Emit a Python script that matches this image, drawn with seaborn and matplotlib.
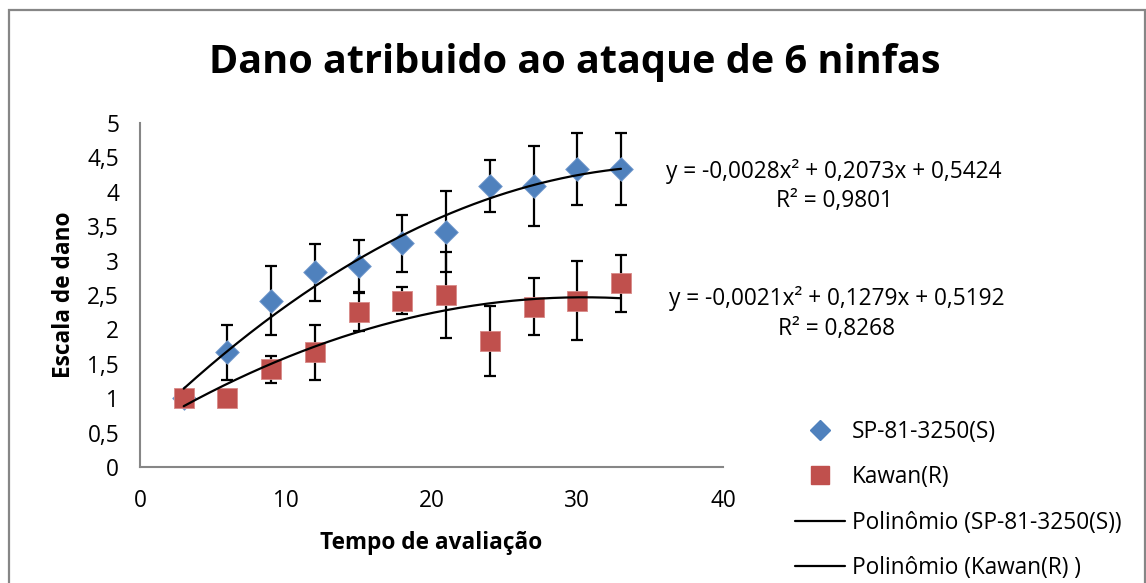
import numpy as np
import pandas as pd
import matplotlib
matplotlib.use("Agg")
import matplotlib.pyplot as plt
import seaborn as sns
from matplotlib.patches import Rectangle
from matplotlib.lines import Line2D

# Evaluation times and mean damage scores for each cultivar
tempo = [3, 6, 9, 12, 15, 18, 21, 24, 27, 30, 33]
dano_sp = [1.00, 1.67, 2.42, 2.83, 2.92, 3.25, 3.42, 4.08, 4.08, 4.33, 4.33]
erro_sp = [0.00, 0.40, 0.50, 0.41, 0.38, 0.42, 0.59, 0.38, 0.58, 0.52, 0.52]
dano_kw = [1.00, 1.00, 1.42, 1.67, 2.25, 2.42, 2.50, 1.83, 2.33, 2.42, 2.67]
erro_kw = [0.00, 0.00, 0.20, 0.40, 0.28, 0.20, 0.63, 0.51, 0.41, 0.58, 0.41]

# Second-order polynomial trend coefficients (a, b, c) and R²
coef_sp = [-0.0028, 0.2073, 0.5424]
r2_sp = 0.9801
coef_kw = [-0.0021, 0.1279, 0.5192]
r2_kw = 0.8268

nome_sp = "SP-81-3250(S)"
nome_kw = "Kawan(R)"
titulo = "Dano atribuido ao ataque de 6 ninfas"

sns.set_style("white")
plt.rcParams["font.family"] = ["Open Sans", "DejaVu Sans"]
plt.rcParams["text.color"] = "black"
plt.rcParams["axes.labelcolor"] = "black"

AZUL = "#4F81BD"
VERMELHO = "#C0504D"
CINZA = "#868686"
FS = 16.3

fig = plt.figure(figsize=(11.46, 5.83), dpi=100)
ax = fig.add_axes([140 / 1146, 1 - 467 / 583, 583 / 1146, 344 / 583])

df = pd.DataFrame({
    "tempo": tempo * 2,
    "dano": dano_sp + dano_kw,
    "serie": [nome_sp] * len(tempo) + [nome_kw] * len(tempo),
})

# Error bars underneath the markers
ax.errorbar(tempo, dano_sp, yerr=erro_sp, fmt="none", ecolor="black",
            elinewidth=1.6, capsize=4.5, capthick=1.6, zorder=1)
ax.errorbar(tempo, dano_kw, yerr=erro_kw, fmt="none", ecolor="black",
            elinewidth=1.6, capsize=4.5, capthick=1.6, zorder=1)

sns.scatterplot(data=df[df.serie == nome_sp], x="tempo", y="dano", marker="D",
                s=145, color=AZUL, edgecolor="#7a9fd0", linewidth=0.6,
                ax=ax, zorder=2, legend=False)
sns.scatterplot(data=df[df.serie == nome_kw], x="tempo", y="dano", marker="s",
                s=225, color=VERMELHO, edgecolor="#d98a88", linewidth=0.6,
                ax=ax, zorder=3, legend=False)

# Polynomial trend lines over the observed range
xs = np.linspace(min(tempo), max(tempo), 200)
ys_sp = np.polyval(coef_sp, xs)
ys_kw = np.polyval(coef_kw, xs)
sns.lineplot(x=xs, y=ys_sp, color="black", linewidth=1.6, ax=ax, zorder=4)
sns.lineplot(x=xs, y=ys_kw, color="black", linewidth=1.6, ax=ax, zorder=4)

ax.set_xlim(0, 40)
ax.set_ylim(0, 5)
ax.set_xticks([0, 10, 20, 30, 40])
ax.set_yticks(np.arange(0, 5.01, 0.5))
ax.set_yticklabels([f"{v:g}".replace(".", ",") for v in np.arange(0, 5.01, 0.5)])

for s in ["top", "right"]:
    ax.spines[s].set_visible(False)
for s in ["left", "bottom"]:
    ax.spines[s].set_color(CINZA)
    ax.spines[s].set_linewidth(1.5)
ax.tick_params(axis="both", which="both", direction="out", length=7, width=1.5,
               color=CINZA, labelsize=FS, labelcolor="black", pad=8)
ax.tick_params(axis="x", pad=9)

ax.set_xlabel("Tempo de avaliação", fontsize=FS, fontweight="bold", labelpad=13)
ax.set_ylabel("Escala de dano", fontsize=FS, fontweight="bold", labelpad=8)

fig.text(575 / 1146, 1 - 62 / 583, titulo, fontsize=28.5, fontweight="bold",
         ha="center", va="center", color="black")


def equacao(c, r2):
    def num(v, d=4):
        return f"{v:.{d}f}".replace(".", ",")
    linha1 = f"y = {num(c[0])}x² + {num(c[1])}x + {num(c[2])}"
    linha2 = f"R² = {num(r2)}"
    return linha1, linha2


l1, l2 = equacao(coef_sp, r2_sp)
fig.text(834 / 1146, 1 - 172 / 583, l1, fontsize=FS, ha="center", va="center")
fig.text(834 / 1146, 1 - 201 / 583, l2, fontsize=FS, ha="center", va="center")
l1, l2 = equacao(coef_kw, r2_kw)
fig.text(837 / 1146, 1 - 299 / 583, l1, fontsize=FS, ha="center", va="center")
fig.text(837 / 1146, 1 - 329 / 583, l2, fontsize=FS, ha="center", va="center")

handles = [
    Line2D([], [], marker="D", linestyle="none", color=AZUL, markersize=10),
    Line2D([], [], marker="s", linestyle="none", color=VERMELHO, markersize=13),
    Line2D([], [], color="black", linewidth=1.6),
    Line2D([], [], color="black", linewidth=1.6),
]
labels = [nome_sp, nome_kw, f"Polinômio ({nome_sp})", f"Polinômio ({nome_kw} )"]
fig.legend(handles, labels, loc="center left",
           bbox_to_anchor=(795 / 1146, 1 - 500 / 583), frameon=False,
           fontsize=FS, handlelength=2.2, handletextpad=0.3, labelspacing=0.95,
           borderpad=0, borderaxespad=0)

# Chart area border
fig.patches.append(Rectangle((9 / 1146, -0.01), 1136 / 1146, 1 - 10 / 583 + 0.01,
                             transform=fig.transFigure, fill=False,
                             edgecolor=CINZA, linewidth=1.6))

fig.savefig("out.png", dpi=100)
